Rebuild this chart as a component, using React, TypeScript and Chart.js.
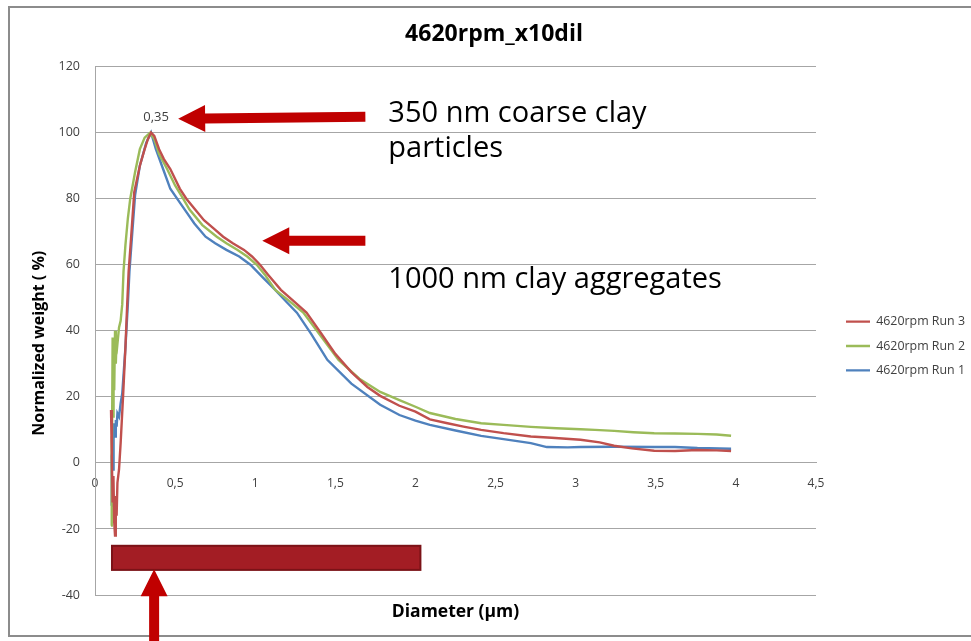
import React, { useEffect, useRef } from "react";
import { Chart, registerables } from "chart.js";

Chart.register(...registerables);

// ---------- data ----------
const seriesLabels = ["4620rpm Run 3", "4620rpm Run 2", "4620rpm Run 1"];

const run3X = [0.1, 0.105, 0.11, 0.115, 0.12, 0.125, 0.13, 0.135, 0.14, 0.15, 0.16, 0.175, 0.19, 0.2, 0.21, 0.225, 0.245, 0.28, 0.31, 0.33, 0.35, 0.37, 0.4, 0.43, 0.47, 0.53, 0.57, 0.625, 0.68, 0.74, 0.8, 0.86, 0.93, 0.98, 1.03, 1.08, 1.16, 1.24, 1.32, 1.4, 1.5, 1.6, 1.7, 1.78, 1.9, 2.0, 2.09, 2.2, 2.3, 2.41, 2.55, 2.72, 2.85, 3.03, 3.15, 3.24, 3.35, 3.49, 3.62, 3.76, 3.88, 3.97];
const run3Y = [16, 2, -12, -4, -18, -22, -10, -16, -6, -2, 6, 20, 35, 47, 58, 68, 82, 90, 95, 98, 100, 99, 95, 92, 89, 83, 80, 76.7, 73.5, 71, 68.5, 66.5, 64.5, 62.5, 60, 57, 52.4, 49, 45.5, 40, 33, 27.5, 23, 20.3, 17.3, 15.5, 13.2, 12, 11, 10, 9, 8, 7.6, 7, 6.2, 5.2, 4.4, 3.7, 3.6, 3.9, 3.8, 3.6];

const run2X = [0.1, 0.103, 0.106, 0.11, 0.113, 0.116, 0.12, 0.125, 0.13, 0.135, 0.14, 0.15, 0.16, 0.17, 0.178, 0.19, 0.205, 0.22, 0.25, 0.28, 0.31, 0.345, 0.37, 0.4, 0.45, 0.5, 0.55, 0.59, 0.67, 0.76, 0.82, 0.89, 0.95, 1.01, 1.06, 1.125, 1.2, 1.3, 1.4, 1.52, 1.65, 1.78, 1.9, 2.0, 2.09, 2.25, 2.41, 2.55, 2.72, 2.88, 3.03, 3.12, 3.24, 3.36, 3.49, 3.62, 3.76, 3.88, 3.97];
const run2Y = [-19, 8, -8, 38, 14, 34, 22, 40, 30, 38, 36, 41, 43, 48, 58, 66, 74, 80, 88, 95, 98.5, 100, 98, 93.5, 89, 84, 80, 76.7, 72, 68.5, 66.5, 64.5, 62.5, 60, 57, 52.4, 49.5, 45.5, 39, 31.2, 25.5, 21.5, 19, 17, 15.1, 13.3, 12, 11.5, 10.9, 10.5, 10.2, 10, 9.7, 9.3, 9, 8.9, 8.8, 8.6, 8.2];

const run1X = [0.1, 0.103, 0.106, 0.11, 0.113, 0.116, 0.12, 0.125, 0.13, 0.135, 0.14, 0.15, 0.16, 0.17, 0.19, 0.205, 0.215, 0.23, 0.25, 0.28, 0.32, 0.35, 0.38, 0.425, 0.47, 0.52, 0.56, 0.62, 0.69, 0.75, 0.82, 0.9, 0.97, 1.05, 1.125, 1.2, 1.26, 1.35, 1.45, 1.6, 1.78, 1.9, 2.0, 2.09, 2.25, 2.41, 2.55, 2.72, 2.82, 2.95, 3.03, 3.24, 3.49, 3.62, 3.76, 3.97];
const run1Y = [-13, -4, 2, 4, -2, 9, 12, 8, 13, 11, 15, 14, 18, 21, 35, 48, 58, 68, 81, 90, 97, 100, 95, 89, 83, 79.5, 76.7, 72.5, 68.5, 66.5, 64.5, 62.5, 60, 56, 52.4, 48.5, 45.5, 39, 31.2, 24, 17.6, 14.5, 12.8, 11.5, 9.8, 8.2, 7.2, 6, 4.8, 4.7, 4.8, 4.9, 4.8, 4.8, 4.5, 4.3];

const xMin = 0;
const xMax = 4.5;
const xStep = 0.5;
const yMin = -40;
const yMax = 120;
const yStep = 20;

// annotations, in data units
const arrowTips = [[0.519, 104.2], [1.044, 67.3], [0.369, -32.2]];
const arrowTails = [[1.6875, 104.8], [1.6875, 67.3], [0.369, -56]];
const noteTexts = ["350 nm coarse clay", "particles", "1000 nm clay aggregates"];
const notePos = [[1.831, 103.3], [1.831, 92.7], [1.831, 53]];
const bandX = [0.106, 2.031];
const bandY = [-25.1, -32.4];

// ---------- styles ----------
const FONT = "'Open Sans', 'Noto Sans', sans-serif";
const RED = "#c0504d";
const GREEN = "#9bbb59";
const BLUE = "#4f81bd";
const GRID = "#a6a6a6";
const TICK = "#404040";
const ARROW = "#c00000";

const fmt = (v: number) => String(v).replace(".", ",");

function drawArrow(ctx: CanvasRenderingContext2D, tx: number, ty: number, ex: number, ey: number) {
  const headLen = 27, headHalf = 13.5, shaftHalf = 5;
  const dx = ex - tx, dy = ey - ty;
  const len = Math.hypot(dx, dy);
  const ux = dx / len, uy = dy / len;
  const nx = -uy, ny = ux;
  const bx = tx + ux * headLen, by = ty + uy * headLen;
  ctx.beginPath();
  ctx.moveTo(tx, ty);
  ctx.lineTo(bx + nx * headHalf, by + ny * headHalf);
  ctx.lineTo(bx + nx * shaftHalf, by + ny * shaftHalf);
  ctx.lineTo(ex + nx * shaftHalf, ey + ny * shaftHalf);
  ctx.lineTo(ex - nx * shaftHalf, ey - ny * shaftHalf);
  ctx.lineTo(bx - nx * shaftHalf, by - ny * shaftHalf);
  ctx.lineTo(bx - nx * headHalf, by - ny * headHalf);
  ctx.closePath();
  ctx.fill();
}

const framePlugin = {
  id: "frame",
  beforeDraw(chart: any) {
    const ctx = chart.ctx;
    ctx.save();
    ctx.fillStyle = "#ffffff";
    ctx.fillRect(0, 0, chart.width, chart.height);
    ctx.strokeStyle = "#8c8c8c";
    ctx.lineWidth = 2;
    ctx.strokeRect(9, 7, chart.width + 20, 629);
    ctx.restore();
  },
};

const annotationPlugin = {
  id: "notes",
  afterDraw(chart: any) {
    const ctx = chart.ctx;
    const xs = chart.scales.x;
    const ys = chart.scales.y;
    ctx.save();
    // peak data label
    const meta = chart.getDatasetMeta(2);
    const data = chart.data.datasets[2].data as { x: number; y: number }[];
    let best = 0;
    data.forEach((p, i) => { if (p.y > data[best].y) best = i; });
    const pt = meta.data[best];
    ctx.font = `13px ${FONT}`;
    ctx.fillStyle = TICK;
    ctx.textAlign = "center";
    ctx.textBaseline = "middle";
    ctx.fillText(fmt(data[best].x), pt.x + 5, pt.y - 15);

    // band
    const bx0 = xs.getPixelForValue(bandX[0]);
    const bx1 = xs.getPixelForValue(bandX[1]);
    const by0 = ys.getPixelForValue(bandY[0]);
    const by1 = ys.getPixelForValue(bandY[1]);
    ctx.fillStyle = "#a31d24";
    ctx.strokeStyle = "#7b1217";
    ctx.lineWidth = 2;
    ctx.fillRect(bx0, by0, bx1 - bx0, by1 - by0);
    ctx.strokeRect(bx0, by0, bx1 - bx0, by1 - by0);

    // arrows
    ctx.fillStyle = ARROW;
    arrowTips.forEach((tip, i) => {
      const tail = arrowTails[i];
      drawArrow(ctx, xs.getPixelForValue(tip[0]), ys.getPixelForValue(tip[1]), xs.getPixelForValue(tail[0]), ys.getPixelForValue(tail[1]));
    });

    // texts
    ctx.fillStyle = "#000000";
    ctx.font = `29px ${FONT}`;
    ctx.textAlign = "left";
    ctx.textBaseline = "alphabetic";
    noteTexts.forEach((t, i) => {
      ctx.fillText(t, xs.getPixelForValue(notePos[i][0]), ys.getPixelForValue(notePos[i][1]));
    });
    ctx.restore();
  },
};

export default function App() {
  const ref = useRef<HTMLCanvasElement | null>(null);
  useEffect(() => {
    if (!ref.current) return;
    const pts = (xs: number[], ys: number[]) => xs.map((x, i) => ({ x, y: ys[i] }));
    const mk = (label: string, xs: number[], ys: number[], color: string) => ({
      label,
      data: pts(xs, ys),
      borderColor: color,
      backgroundColor: color,
      borderWidth: 2.4,
      pointRadius: 0,
      tension: 0,
      fill: false,
      xAxisID: "x",
      yAxisID: "y",
    });
    const chart = new Chart(ref.current, {
      type: "line",
      data: {
        datasets: [
          mk(seriesLabels[0], run3X, run3Y, RED),
          mk(seriesLabels[1], run2X, run2Y, GREEN),
          mk(seriesLabels[2], run1X, run1Y, BLUE),
        ],
      },
      options: {
        animation: false,
        responsive: false,
        maintainAspectRatio: false,
        layout: { padding: { left: 17, right: 0, top: 0, bottom: 0 } },
        plugins: {
          tooltip: { enabled: false },
          title: {
            display: true,
            text: "4620rpm_x10dil",
            color: "#000000",
            font: { family: FONT, size: 23, weight: "bold" },
            padding: { top: 21, bottom: 18 },
          },
          legend: {
            position: "right",
            align: "center",
            fullSize: false,
            maxWidth: 137,
            title: { display: true, text: "", font: { size: 12 }, padding: { top: 16, bottom: 0 } },
            labels: {
              usePointStyle: true,
              pointStyle: "line",
              pointStyleWidth: 24,
              padding: 12,
              color: TICK,
              font: { family: FONT, size: 12.4 },
            },
          },
        },
        scales: {
          x: {
            type: "linear",
            position: { y: 0 } as any,
            min: xMin,
            max: xMax,
            grid: { display: false, drawTicks: false },
            border: { display: true, color: GRID, width: 1 },
            ticks: {
              stepSize: xStep,
              padding: 13.5,
              color: TICK,
              font: { family: FONT, size: 12 },
              callback: (v: any) => fmt(Number(v)),
            },
          },
          xTitle: {
            type: "linear",
            axis: "x",
            position: "bottom",
            min: xMin,
            max: xMax,
            grid: { display: false, drawTicks: false },
            border: { display: false },
            ticks: { display: false },
            title: {
              display: true,
              text: "Diameter (µm)",
              color: "#000000",
              font: { family: FONT, size: 17.5, weight: "bold" },
              padding: { top: 0, bottom: 18 },
            },
            afterFit: (s: any) => { s.height = 46; },
          },
          y: {
            type: "linear",
            position: "left",
            min: yMin,
            max: yMax,
            grid: { color: GRID, lineWidth: 1, drawTicks: false },
            border: { display: true, color: GRID, width: 1 },
            ticks: {
              stepSize: yStep,
              padding: 15,
              color: TICK,
              font: { family: FONT, size: 12.5 },
            },
            title: {
              display: true,
              text: "Normalized weight ( %)\u00a0\u00a0\u00a0\u00a0\u00a0\u00a0",
              color: "#000000",
              font: { family: FONT, size: 16, weight: "bold" },
              padding: { top: 13, bottom: 0 },
            },
            afterFit: (s: any) => { s.width = 78; },
          },
          gap: {
            type: "linear",
            axis: "y",
            position: "right",
            grid: { display: false, drawTicks: false },
            border: { display: false },
            ticks: { display: false },
            afterFit: (s: any) => { s.width = 18; },
          },
        } as any,
      },
      plugins: [framePlugin, annotationPlugin],
    } as any);
    return () => chart.destroy();
  }, []);

  return (
    <div style={{ position: "fixed", left: 0, top: 0, width: 971, height: 641, background: "#fff" }}>
      <canvas ref={ref} width={971} height={641} style={{ display: "block", width: 971, height: 641 }} />
    </div>
  );
}
